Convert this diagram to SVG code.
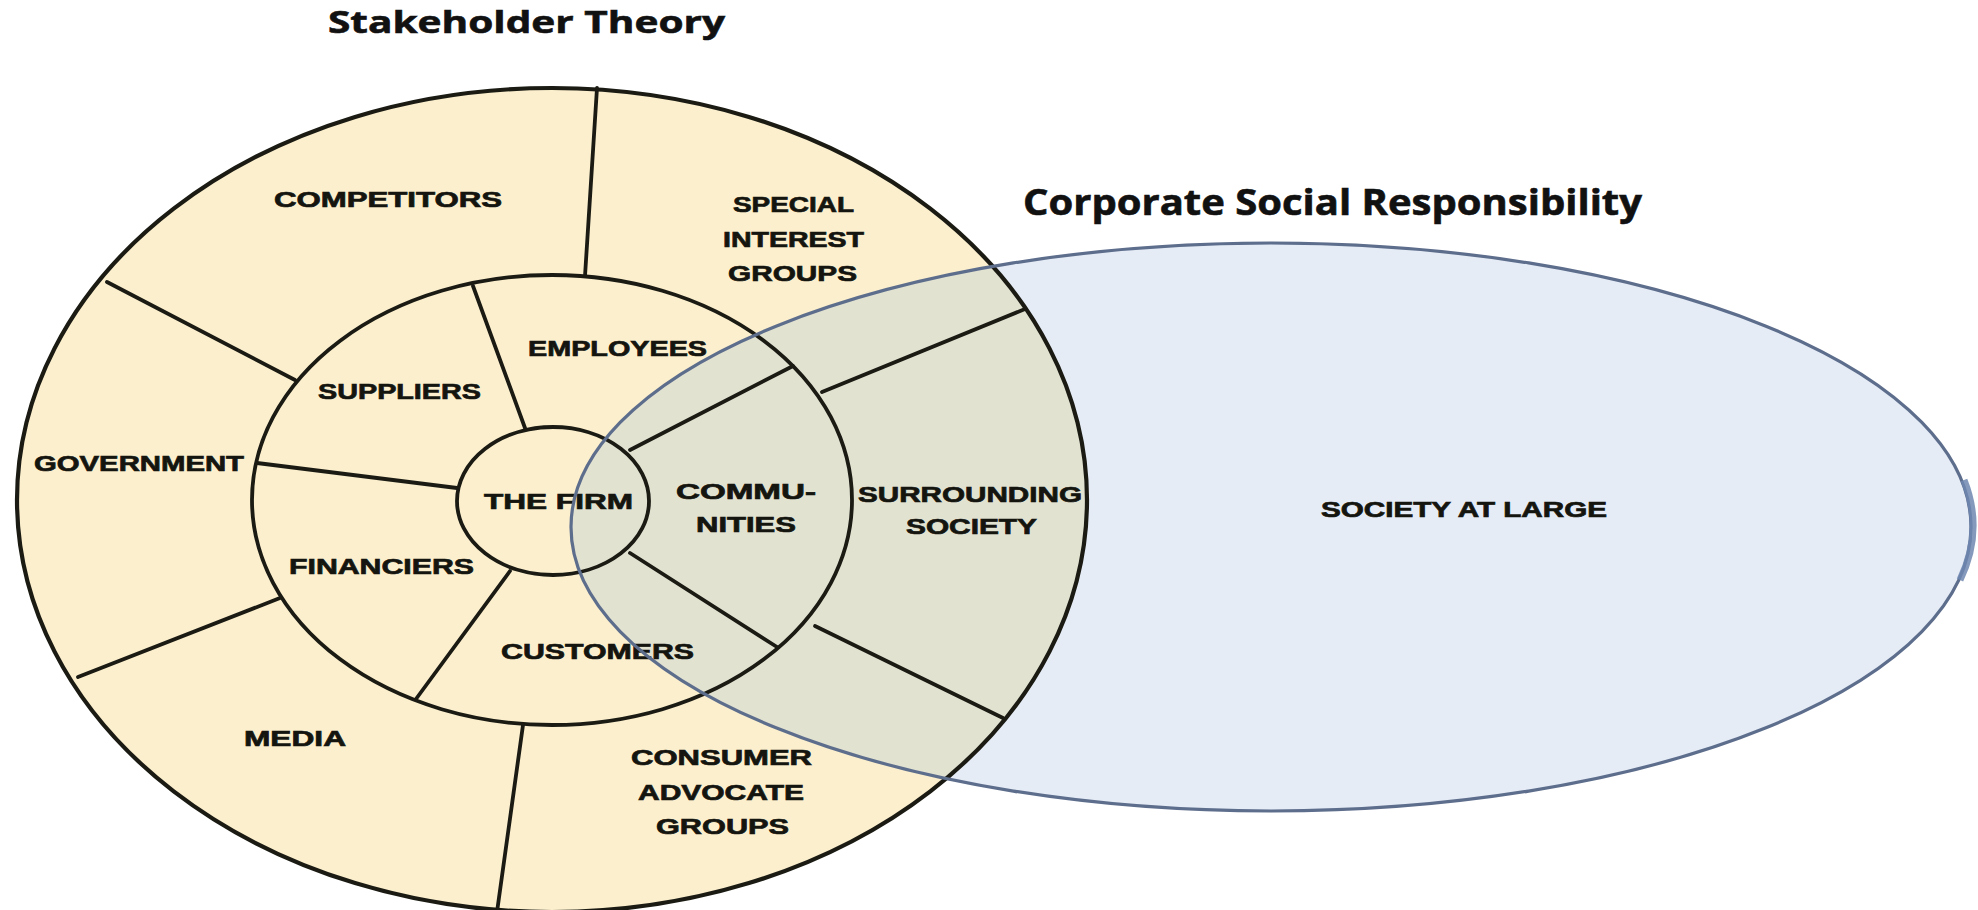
<svg xmlns="http://www.w3.org/2000/svg" width="1978" height="910" viewBox="0 0 1978 910">
  <defs>
    <clipPath id="csrClip">
      <ellipse cx="1271" cy="527" rx="700" ry="284"/>
    </clipPath>
    <style>
      .title { font-family: "Open Sans", "Liberation Sans", sans-serif; font-weight: bold; fill: #111; stroke: #111; stroke-width: 0.6; }
      .lbl { font-family: "Liberation Sans", Arial, sans-serif; font-weight: bold; font-size: 22px; fill: #151510; stroke: #151510; stroke-width: 0.7; }
      .wl { fill: none; stroke: #1b1b14; stroke-width: 3.8; stroke-linecap: round; }
      .csr-stroke { fill: none; stroke: #5d6d8c; stroke-width: 3.2; }
    </style>
  </defs>

  <rect x="0" y="0" width="1978" height="910" fill="#ffffff"/>

  <!-- Backgrounds -->
  <g id="csr-area">
    <ellipse cx="1271" cy="527" rx="700" ry="284" fill="#e5ecf6"/>
  </g>
  <g id="wheel-area">
    <ellipse cx="552" cy="500" rx="535" ry="412" fill="#fbefcd"/>
    <ellipse cx="552" cy="500" rx="535" ry="412" fill="#e2e2d1" clip-path="url(#csrClip)"/>
  </g>

  <!-- Wheel rings -->
  <g id="rings">
    <ellipse class="wl" cx="552" cy="500" rx="535" ry="412" style="stroke-width:4.2"/>
    <ellipse class="wl" cx="552" cy="500" rx="300" ry="225"/>
    <ellipse class="wl" cx="553" cy="501" rx="96" ry="74"/>
  </g>

  <!-- Dividers -->
  <g id="connectors">
    <line class="wl" x1="597" y1="88" x2="585" y2="276"/>
    <line class="wl" x1="107" y1="282" x2="295" y2="380"/>
    <line class="wl" x1="78" y1="677" x2="280" y2="598"/>
    <line class="wl" x1="523" y1="725" x2="497" y2="912"/>
    <line class="wl" x1="815" y1="626" x2="1003" y2="718"/>
    <line class="wl" x1="822" y1="392" x2="1025" y2="309"/>
    <line class="wl" x1="473" y1="286" x2="525" y2="428"/>
    <line class="wl" x1="257" y1="463" x2="457" y2="488"/>
    <line class="wl" x1="510" y1="571" x2="416" y2="699"/>
    <line class="wl" x1="630" y1="553" x2="777" y2="647"/>
    <line class="wl" x1="630" y1="450" x2="793" y2="366"/>
  </g>

  <!-- Titles -->
  <g id="title-stakeholder">
    <text class="title" x="328" y="33" font-size="31" textLength="397" lengthAdjust="spacingAndGlyphs">Stakeholder Theory</text>
  </g>
  <g id="title-csr">
    <text class="title" x="1023" y="215" font-size="35" textLength="619" lengthAdjust="spacingAndGlyphs">Corporate Social Responsibility</text>
  </g>

  <!-- Labels -->
  <g id="competitors"><text class="lbl" x="274" y="207" textLength="228" lengthAdjust="spacingAndGlyphs">COMPETITORS</text></g>
  <g id="special-interest-groups">
    <text class="lbl" x="733" y="212" textLength="121" lengthAdjust="spacingAndGlyphs">SPECIAL</text>
    <text class="lbl" x="723" y="247" textLength="141" lengthAdjust="spacingAndGlyphs">INTEREST</text>
    <text class="lbl" x="728" y="281" textLength="129" lengthAdjust="spacingAndGlyphs">GROUPS</text>
  </g>
  <g id="employees"><text class="lbl" x="528" y="356" textLength="179" lengthAdjust="spacingAndGlyphs">EMPLOYEES</text></g>
  <g id="suppliers"><text class="lbl" x="318" y="399" textLength="163" lengthAdjust="spacingAndGlyphs">SUPPLIERS</text></g>
  <g id="government"><text class="lbl" x="34" y="471" textLength="210" lengthAdjust="spacingAndGlyphs">GOVERNMENT</text></g>
  <g id="the-firm"><text class="lbl" x="484" y="509" textLength="149" lengthAdjust="spacingAndGlyphs">THE FIRM</text></g>
  <g id="communities">
    <text class="lbl" x="676" y="499" textLength="140" lengthAdjust="spacingAndGlyphs">COMMU-</text>
    <text class="lbl" x="696" y="532" textLength="100" lengthAdjust="spacingAndGlyphs">NITIES</text>
  </g>
  <g id="surrounding-society">
    <text class="lbl" x="858" y="502" textLength="224" lengthAdjust="spacingAndGlyphs">SURROUNDING</text>
    <text class="lbl" x="906" y="534" textLength="131" lengthAdjust="spacingAndGlyphs">SOCIETY</text>
  </g>
  <g id="financiers"><text class="lbl" x="289" y="574" textLength="185" lengthAdjust="spacingAndGlyphs">FINANCIERS</text></g>
  <g id="customers"><text class="lbl" x="501" y="659" textLength="193" lengthAdjust="spacingAndGlyphs">CUSTOMERS</text></g>
  <g id="media"><text class="lbl" x="244" y="746" textLength="102" lengthAdjust="spacingAndGlyphs">MEDIA</text></g>
  <g id="consumer-advocate-groups">
    <text class="lbl" x="631" y="765" textLength="181" lengthAdjust="spacingAndGlyphs">CONSUMER</text>
    <text class="lbl" x="638" y="800" textLength="166" lengthAdjust="spacingAndGlyphs">ADVOCATE</text>
    <text class="lbl" x="656" y="834" textLength="133" lengthAdjust="spacingAndGlyphs">GROUPS</text>
  </g>
  <g id="society-at-large"><text class="lbl" x="1321" y="517" textLength="286" lengthAdjust="spacingAndGlyphs">SOCIETY AT LARGE</text></g>

  <!-- CSR outline on top -->
  <g id="csr-outline">
    <ellipse class="csr-stroke" cx="1271" cy="527" rx="700" ry="284"/>
    <path d="M 1964 480 A 700 284 0 0 1 1960 580" fill="none" stroke="#6f87b0" stroke-width="7" opacity="0.85"/>
  </g>
</svg>
